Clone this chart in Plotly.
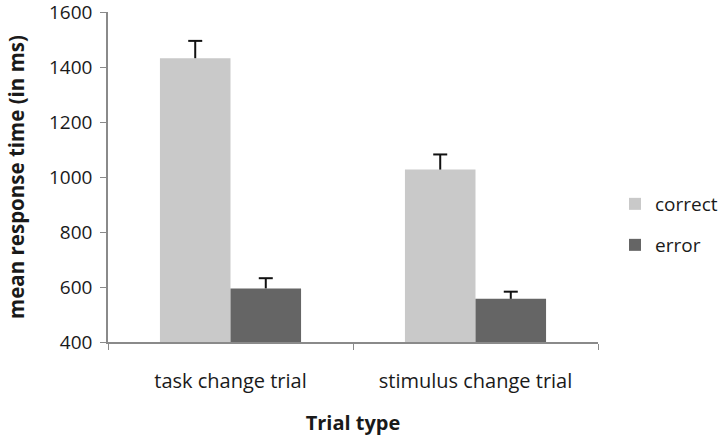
import plotly.graph_objects as go

categories = ["task change trial", "stimulus change trial"]
correct_rt = [1432, 1027]
correct_err = [63, 55]
error_rt = [595, 557]
error_err = [37, 26]
y_ticks = [400, 600, 800, 1000, 1200, 1400, 1600]

FONT = "Open Sans"
GAP = 0.424

fig = go.Figure()
for name, vals, errs, color, grp, leg in [
    ("correct", correct_rt, correct_err, "#c9c9c9", "c", "legend"),
    ("error", error_rt, error_err, "#656565", "e", "legend2"),
]:
    fig.add_trace(go.Bar(
        x=categories, y=vals, name=name, offsetgroup=grp,
        marker=dict(color=color, line=dict(width=0)),
        error_y=dict(type="data", array=errs, symmetric=False, arrayminus=[0] * len(errs),
                     color="#111111", thickness=2, width=0),
        legend=leg,
    ))
    # only the upper cap of the error bar
    fig.add_trace(go.Scatter(
        x=categories, y=[v + e for v, e in zip(vals, errs)], mode="markers",
        offsetgroup=grp, showlegend=False, hoverinfo="skip",
        marker=dict(symbol="line-ew", size=10, line=dict(width=2, color="#111111")),
    ))

leg = dict(font=dict(family=FONT, size=19, color="#1a1a1a"), bgcolor="rgba(0,0,0,0)",
           xref="container", yref="container", xanchor="left", yanchor="middle", itemwidth=30)

fig.update_layout(
    width=720, height=436,
    margin=dict(l=108, r=122, t=12, b=94),
    paper_bgcolor="white", plot_bgcolor="white",
    barmode="group", bargap=GAP, bargroupgap=0,
    scattermode="group", scattergap=GAP,
    showlegend=True,
    font=dict(family=FONT, size=19, color="#1a1a1a"),
    legend=dict(**leg, x=615 / 720, y=1 - 204 / 436),
    legend2=dict(**leg, x=615 / 720, y=1 - 245 / 436),
    xaxis=dict(
        automargin=False,
        showline=True, linecolor="#8a8a8a", linewidth=1.5,
        ticks="outside", tickson="boundaries", ticklen=6, tickcolor="#8a8a8a",
        ticklabelstandoff=20, tickfont=dict(size=20),
        title=dict(text="<b>Trial type</b>", font=dict(family=FONT, size=20), standoff=27),
    ),
    yaxis=dict(
        automargin=False,
        range=[400, 1600], tickvals=y_ticks, showgrid=False, zeroline=False,
        showline=True, linecolor="#8a8a8a", linewidth=1.5,
        ticks="outside", ticklen=6, tickcolor="#8a8a8a", ticklabelstandoff=4,
        ticklabeloverflow="allow", tickfont=dict(size=19),
        title=dict(text="<b>mean response time (in ms)</b>", font=dict(family=FONT, size=20.5), standoff=19),
    ),
)

fig.write_html("out.html", config={"displayModeBar": False},
               post_script="document.body.style.margin='0';")
